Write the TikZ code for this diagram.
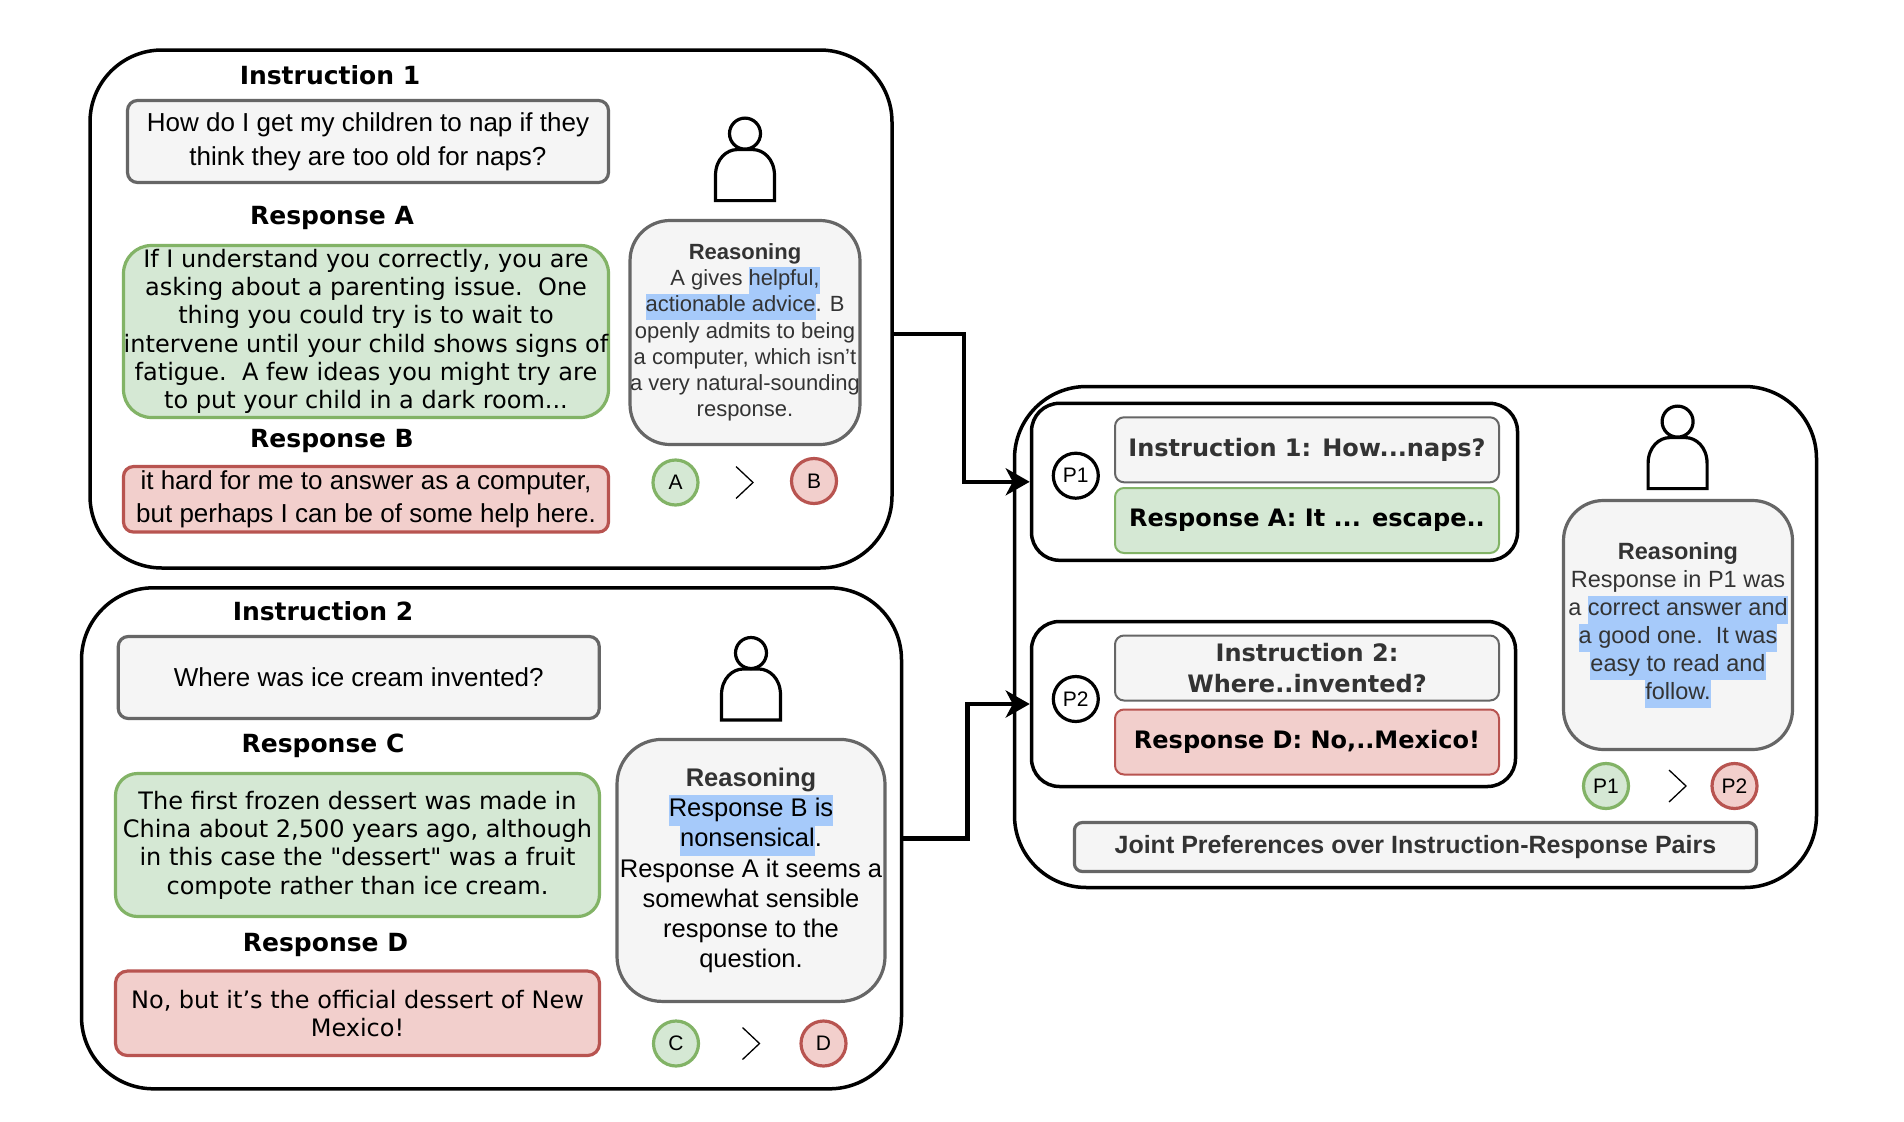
\documentclass[tikz,border=0pt]{standalone}
\usepackage{fontspec}
\setmainfont{Liberation Sans}
\newfontfamily\dejafont{DejaVu Sans}
\usetikzlibrary{arrows.meta}
\definecolor{grayline}{HTML}{666666}
\definecolor{grayfill}{HTML}{F5F5F5}
\definecolor{greenline}{HTML}{82B366}
\definecolor{greenfill}{HTML}{D5E8D4}
\definecolor{redline}{HTML}{B85450}
\definecolor{redfill}{HTML}{F2CFCC}
\definecolor{markblue}{HTML}{A6CAFA}
\newcommand{\hilite}[1]{{\setlength{\fboxsep}{0pt}\colorbox{markblue}{\strut #1}}}
\tikzset{panel style/.style={
		draw=black,
		line width=3.5pt,
		fill=white,
		rectangle,
		rounded corners=#1,
		inner sep=0pt,
	},
	title style/.style={
		font=\dejafont\fontsize{25}{30}\selectfont\bfseries,
		inner sep=0pt,
	},
	box style/.style={
		rectangle,
		line width=3.2pt,
		inner sep=0pt,
		align=center,
		rounded corners=#1,
	},
	gray style/.style={
		box style=#1,
		draw=grayline,
		fill=grayfill,
		font=\fontsize{26}{34}\selectfont,
	},
	green style/.style={
		box style=#1,
		draw=greenline,
		fill=greenfill,
		font=\dejafont\fontsize{24}{28.3}\selectfont,
	},
	red style/.style={
		box style=#1,
		draw=redline,
		fill=redfill,
		font=\fontsize{26}{33.5}\selectfont,
	},
	reason style/.style={
		box style=#1,
		draw=grayline,
		fill=grayfill,
	},
	pick style/.style={
		circle,
		line width=3.2pt,
		minimum size=45pt,
		inner sep=0pt,
		font=\fontsize{21}{25}\selectfont,
		node distance=138.5pt,
	},
	pair text/.style={
		rectangle,
		line width=2pt,
		minimum width=384pt,
		minimum height=65pt,
		rounded corners=9pt,
		inner sep=0pt,
		align=center,
		font=\dejafont\fontsize{24}{31}\selectfont\bfseries,
	},
	flow style/.style={
		line width=4.5pt,
		-{Stealth[length=24pt,width=27pt,inset=7pt]},
	},
	person/.pic={
		\draw[line width=3.2pt] (0,0) circle (15.5);
		\draw[line width=3.2pt] (-29.5,67) -- (-29.5,42)
		.. controls (-29.5,25) and (-18,16) .. (-8,16)
		-- (8,16)
		.. controls (18,16) and (29.5,25) .. (29.5,42)
		-- (29.5,67) -- cycle;
	},
	better sign/.pic={
		\draw[line width=1.3pt] (-8.5,-16) -- (8.5,0) -- (-8.5,16);
	},
}
\begin{document}
\begin{tikzpicture}[x=1pt,y=-1pt]
	\useasboundingbox (0,0) rectangle (1904,1122);
	% first instruction
	\node[panel style=72pt, minimum width=802pt, minimum height=518pt] (PanelOne) at (491,309) {};
	\node[title style] (InstrOneTitle) at (330,75) {Instruction 1};
	\node[gray style=10pt, minimum width=481pt, minimum height=82pt] (InstrOne) at (368,141.5) {How do I get my children to nap if they\\think they are too old for naps?};
	\node[title style] (RespATitle) at (332,218) {Response A};
	\node[green style=28pt, minimum width=485pt, minimum height=172pt] (RespA) at (366,331.5) {If I understand you correctly, you are\\asking about a parenting issue.\ \ One\\thing you could try is to wait to\\intervene until your child shows signs of\\fatigue.\ \ A few ideas you might try are\\to put your child in a dark room...};
	\node[title style] (RespBTitle) at (332,441) {Response B};
	\node[red style=10pt, minimum width=485pt, minimum height=65.5pt] (RespB) at (366,499.3) {it hard for me to answer as a computer,\\but perhaps I can be of some help here.};
	\pic at (745,133.6) {person};
	\node[reason style=40pt, minimum width=229pt, minimum height=224pt, font=\fontsize{22}{26.2}\selectfont, text=black!80] (ReasonA) at (745,332.5) {\textbf{Reasoning}\\A gives \hilite{helpful,}\\\hilite{actionable advice}. B\\openly admits to being\\a computer, which isn't\\a very natural-sounding\\response.};
	\node[pick style, draw=greenline, fill=greenfill] (PickA) at (675.5,482.5) {A};
	\node[pick style, draw=redline, fill=redfill, right of=PickA, yshift=1.5pt] (PickB) {B};
	\pic at (744.5,482.5) {better sign};
	% second instruction
	\node[panel style=72pt, minimum width=820pt, minimum height=501pt] (PanelTwo) at (491.5,838.3) {};
	\node[title style] (InstrTwoTitle) at (323,611) {Instruction 2};
	\node[gray style=10pt, minimum width=481pt, minimum height=82pt] (InstrTwo) at (358.75,677.5) {Where was ice cream invented?};
	\node[title style] (RespCTitle) at (323,746) {Response C};
	\node[green style=22pt, minimum width=484pt, minimum height=143pt] (RespC) at (357.5,845) {The first frozen dessert was made in\\China about 2,500 years ago, although\\in this case the "dessert" was a fruit\\compote rather than ice cream.};
	\node[title style] (RespDTitle) at (325.5,945) {Response D};
	\node[red style=12pt, minimum width=484pt, minimum height=84.5pt, font=\dejafont\fontsize{24}{28.5}\selectfont] (RespD) at (357.5,1013.3) {No, but it’s the official dessert of New\\Mexico!};
	\pic at (751,653) {person};
	\node[reason style=45pt, minimum width=268pt, minimum height=262pt, font=\fontsize{25.5}{30.2}\selectfont] (ReasonB) at (751,870.4) {{\color{black!80}\textbf{Reasoning}}\\\hilite{Response B is}\\\hilite{nonsensical}.\\Response A it seems a\\somewhat sensible\\response to the\\question.};
	\node[pick style, draw=greenline, fill=greenfill] (PickC) at (676,1043.5) {C};
	\node[pick style, draw=redline, fill=redfill, right of=PickC, node distance=147.5pt] (PickD) {D};
	\pic at (751,1043.5) {better sign};
	% joint preference
	\node[panel style=72pt, minimum width=802pt, minimum height=501pt] (PanelJoint) at (1415.5,637) {};
	\node[panel style=28pt, minimum width=486pt, minimum height=157pt] (PairOne) at (1274.5,481.8) {};
	\node[panel style=28pt, minimum width=484pt, minimum height=165pt] (PairTwo) at (1273.5,704) {};
	\node[pick style, draw=black, fill=white] (PairOneMark) at (1075.8,475.7) {P1};
	\node[pick style, draw=black, fill=white] (PairTwoMark) at (1075.8,699) {P2};
	\node[pair text, draw=grayline, fill=grayfill, text=black!80] (PairOneInstr) at (1307,449.8) {Instruction 1: How...naps?};
	\node[pair text, draw=greenline, fill=greenfill] (PairOneResp) at (1307,520.5) {Response A: It ... escape..};
	\node[pair text, draw=grayline, fill=grayfill, text=black!80] (PairTwoInstr) at (1307,668) {Instruction 2:\\Where..invented?};
	\node[pair text, draw=redline, fill=redfill] (PairTwoResp) at (1307,742) {Response D: No,..Mexico!};
	\pic at (1677.6,421.6) {person};
	\node[reason style=40pt, minimum width=229pt, minimum height=249pt, font=\fontsize{23.5}{28}\selectfont, text=black!80] (ReasonC) at (1678,625) {\textbf{Reasoning}\\Response in P1 was\\a \hilite{correct answer and}\\\hilite{a good one.\ \ It was}\\\hilite{easy to read and}\\\hilite{follow.}};
	\node[pick style, draw=greenline, fill=greenfill] (PickPOne) at (1606,786) {P1};
	\node[pick style, draw=redline, fill=redfill, right of=PickPOne, node distance=128.5pt] (PickPTwo) {P2};
	\pic at (1677.5,786) {better sign};
	\node[gray style=8pt, minimum width=682pt, minimum height=49pt, font=\fontsize{25}{30}\selectfont\bfseries, text=black!80] (JointBox) at (1415.4,847) {Joint Preferences over Instruction-Response Pairs};
	% connectors
	\draw[flow style] ([yshift=-25pt]PanelOne.east) -- ++(70,0) |- (PairOne.west);
	\draw[flow style] (PanelTwo.east) -- ++(64,0) |- (PairTwo.west);
\end{tikzpicture}
\end{document}
